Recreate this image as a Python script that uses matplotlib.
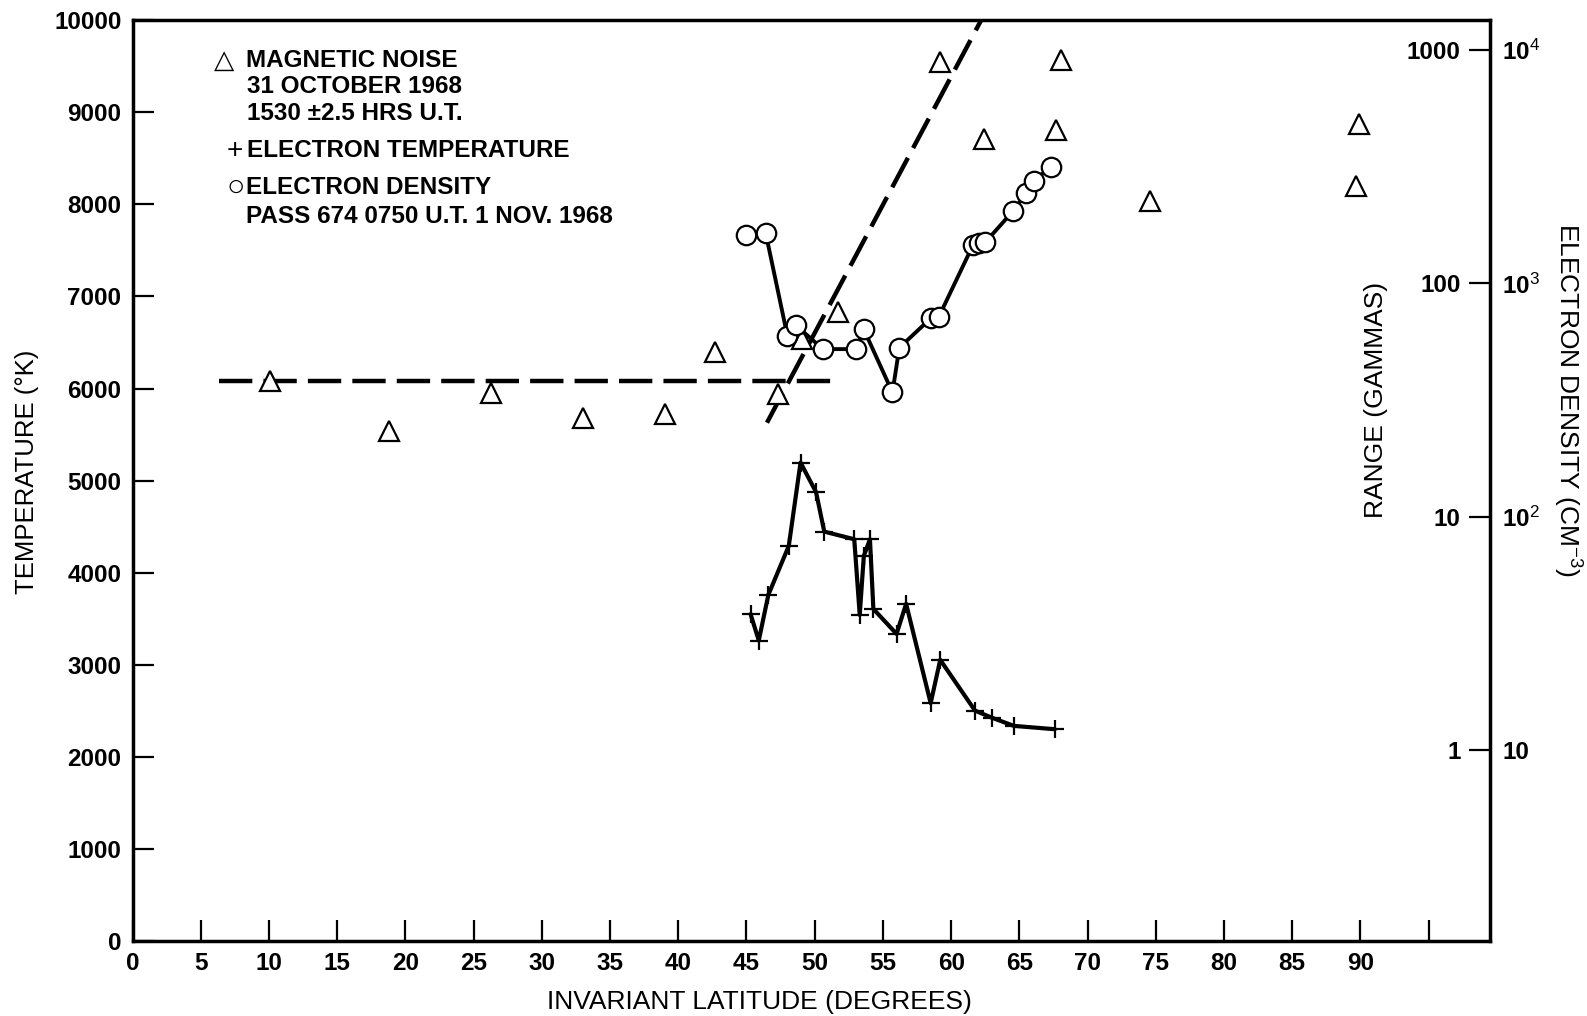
import numpy as np
import matplotlib
matplotlib.use('Agg')
import matplotlib.pyplot as plt
from matplotlib.ticker import FixedLocator, FuncFormatter, NullLocator

plt.rcParams['font.family'] = ['Liberation Sans', 'DejaVu Sans']
plt.rcParams['mathtext.fontset'] = 'custom'
plt.rcParams['mathtext.rm'] = 'Liberation Sans'
plt.rcParams['mathtext.it'] = 'Liberation Sans:italic'
plt.rcParams['mathtext.bf'] = 'Liberation Sans:bold'
plt.rcParams['lines.scale_dashes'] = False

# ---------------- data ----------------
# Magnetic noise (range, gammas) vs invariant latitude
noise_lat = [10.1, 18.8, 26.3, 33.0, 39.0, 42.7, 47.3, 49.1, 51.7,
             59.2, 62.4, 67.7, 68.05, 74.6, 89.7, 89.9]
noise_gamma = [38, 23.4, 34, 26.4, 27.5, 51, 33.7, 58, 75.6,
               891, 414, 454, 907, 225, 261, 480]

# Electron temperature (K)
temp_lat = [45.3, 45.9, 46.6, 48.1, 48.96, 50.1, 50.7, 52.9, 53.3, 53.6,
            54.05, 54.3, 56.0, 56.7, 58.5, 59.2, 61.75, 62.97, 64.6, 67.6]
temp_k = [3549, 3263, 3759, 4291, 5196, 4874, 4446, 4363, 3541, 4182,
          4363, 3606, 3335, 3662, 2583, 3053, 2502, 2426, 2336, 2300]

# Electron density (cm^-3)
dens_lat = [45.0, 46.4, 48.0, 48.6, 50.6, 53.0, 53.6, 55.7, 56.2, 58.5,
            59.1, 61.6, 62.05, 62.5, 64.56, 65.5, 66.08, 67.3]
dens_cm3 = [1615, 1650, 595, 663, 523, 523, 635, 341, 530, 708,
            720, 1459, 1484, 1500, 2048, 2447, 2754, 3165]

# Dashed fits to magnetic noise
flat_fit_lat = [6.3, 51.9]
flat_fit_gamma = [38, 38]
steep_fit_lat = [46.5, 62.2]
steep_fit_gamma = [25.3, 1343]

# Axis ticks
x_ticks = list(range(0, 100, 5))
x_tick_labels = [str(v) for v in range(0, 95, 5)] + ['']
temp_ticks = list(range(0, 10001, 1000))
range_ticks = [1, 10, 100, 1000]
dens_ticks = [10, 100, 1000, 10000]

# ---------------- figure ----------------
W, H = 1587, 1016
fig = plt.figure(figsize=(W / 100, H / 100), dpi=100)
L, R, T, B = 132.6, 1490, 20.2, 941
ax = fig.add_axes([L / W, 1 - B / H, (R - L) / W, (B - T) / H])

ax.set_xlim(0, 99.5)
ax.set_ylim(0, 10000)
for s in ax.spines.values():
    s.set_linewidth(2.5)

tick_fs = 17.5
ax.xaxis.set_major_locator(FixedLocator(x_ticks))
ax.set_xticklabels(x_tick_labels)
ax.yaxis.set_major_locator(FixedLocator(temp_ticks))
ax.tick_params(axis='both', direction='in', length=15, width=1.6,
               labelsize=tick_fs, pad=8)
for lab in ax.get_xticklabels() + ax.get_yticklabels():
    lab.set_fontweight('bold')

ax.set_xlabel('INVARIANT LATITUDE (DEGREES)', fontsize=19)
ax.xaxis.set_label_coords(0.4615, -0.066)
ax.xaxis.label.set_va('center')
ax.set_ylabel('TEMPERATURE (°K)', fontsize=18.5)
ax.yaxis.set_label_coords(-0.078, 0.51)
ax.yaxis.label.set_va('center')

# electron temperature
ax.plot(temp_lat, temp_k, color='black', lw=3.0, solid_capstyle='round',
        zorder=2)
ax.plot(temp_lat, temp_k, linestyle='none', marker='+', ms=13, mew=1.6,
        color='black', zorder=3)

# ---- range (gammas) axis: ticks drawn inward from the right spine
ax2 = ax.twinx()
ax2.set_yscale('log')
ax2.set_ylim(0.152, 1343)
ax2.yaxis.set_ticks_position('left')
ax2.spines['left'].set_position(('axes', 1.0))
for s in ax2.spines.values():
    s.set_visible(False)
ax2.yaxis.set_major_locator(FixedLocator(range_ticks))
ax2.yaxis.set_minor_locator(NullLocator())
ax2.yaxis.set_major_formatter(FuncFormatter(lambda v, p: f'{v:g}'))
ax2.tick_params(axis='y', direction='out', length=15, width=1.6,
                labelsize=tick_fs, pad=6, left=True, labelleft=True,
                right=False, labelright=False)
for lab in ax2.get_yticklabels():
    lab.set_fontweight('bold')

ax2.plot(flat_fit_lat, flat_fit_gamma, color='black', lw=3.2,
         dashes=(24, 8), zorder=2)
ax2.plot(steep_fit_lat, steep_fit_gamma, color='black', lw=3.2,
         dashes=(24, 8), zorder=2)
ax2.plot(noise_lat, noise_gamma, linestyle='none', marker='^', ms=14,
         mfc='white', mec='black', mew=1.6, zorder=4)

# ---- electron density axis
ax3 = ax.twinx()
ax3.set_yscale('log')
ax3.set_ylim(1.52, 13430)
for s in ax3.spines.values():
    s.set_visible(False)
ax3.yaxis.set_major_locator(FixedLocator(dens_ticks))
ax3.yaxis.set_minor_locator(NullLocator())


def dens_fmt(v, p):
    n = int(round(np.log10(v)))
    return '10' if n == 1 else '10$^{%d}$' % n


ax3.yaxis.set_major_formatter(FuncFormatter(dens_fmt))
ax3.tick_params(axis='y', length=0, labelsize=tick_fs, pad=9)
for lab in ax3.get_yticklabels():
    lab.set_fontweight('bold')

ax3.plot(dens_lat, dens_cm3, color='black', lw=2.8, zorder=2)
ax3.plot(dens_lat, dens_cm3, linestyle='none', marker='o', ms=14,
         mfc='white', mec='black', mew=1.6, zorder=3)

# side labels
ax.text(0.916, 0.5875, 'RANGE (GAMMAS)', transform=ax.transAxes,
        rotation=90, ha='center', va='center', fontsize=19)
ax.text(1.057, 0.5875, 'ELECTRON DENSITY (CM$^{-3}$)', transform=ax.transAxes,
        rotation=-90, ha='center', va='center', fontsize=19)

# legend block
fs = 17.5
sym_x = {'tri': 0.0675, 'plus': 0.0753, 'circ': 0.076}
tx = 0.0835
kw = dict(transform=ax.transAxes, va='center', fontsize=fs, fontweight='bold')
ax.text(sym_x['tri'], 0.9557, '△', ha='center', transform=ax.transAxes,
        va='center', fontsize=19)
ax.text(tx, 0.9557, 'MAGNETIC NOISE', **kw)
ax.text(tx + 0.001, 0.9275, '31 OCTOBER 1968', **kw)
ax.text(tx + 0.001, 0.8992, '1530 ±2.5 HRS U.T.', **kw)
ax.text(sym_x['plus'], 0.858, '+', ha='center', transform=ax.transAxes,
        va='center', fontsize=20)
ax.text(tx + 0.001, 0.858, 'ELECTRON TEMPERATURE', **kw)
ax.text(sym_x['circ'], 0.8178, '○', ha='center', transform=ax.transAxes,
        va='center', fontsize=22)
ax.text(tx, 0.8178, 'ELECTRON DENSITY', **kw)
ax.text(tx, 0.787, 'PASS 674 0750 U.T. 1 NOV. 1968', **kw)

fig.savefig('out.png', dpi=100)
